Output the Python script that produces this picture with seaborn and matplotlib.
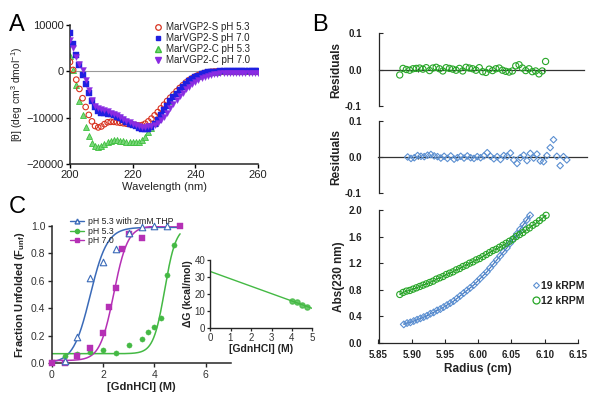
import numpy as np
import pandas as pd
import matplotlib
matplotlib.use("Agg")
import matplotlib.pyplot as plt
import seaborn as sns
from matplotlib.lines import Line2D

sns.set_style("ticks")
plt.rcParams['font.family'] = ['Liberation Sans', 'DejaVu Sans']
plt.rcParams['mathtext.default'] = 'regular'
plt.rcParams['axes.linewidth'] = 1.1

# ---------------- Panel A data (CD spectra) ----------------
wavelength = np.arange(200, 261, 1)
cd_S_53 = [2000, 300, -1800, -3800, -5800, -7700, -9400, -10800, -11800, -12100,
           -11900, -11400, -11000, -10900, -10900, -11000, -11100, -11200, -11300, -11400,
           -11500, -11600, -11700, -11600, -11300, -10800, -10200, -9500, -8800, -8000,
           -7200, -6400, -5700, -5000, -4300, -3600, -3000, -2400, -1900, -1500,
           -1100, -800, -550, -350, -200, -100, -50, -20, 0, 0,
           0, 0, 0, 0, 0, 0, 0, 0, 0, 0, 0]
cd_S_70 = [8200, 5800, 3500, 1300, -800, -2800, -4700, -6400, -7700, -8500,
           -8900, -9100, -9200, -9300, -9500, -9800, -10100, -10500, -10900, -11300,
           -11600, -11900, -12200, -12400, -12500, -12400, -12000, -11300, -10400, -9400,
           -8400, -7400, -6500, -5600, -4800, -4000, -3300, -2700, -2100, -1600,
           -1200, -900, -600, -400, -250, -150, -80, -40, -20, 0,
           0, 0, 0, 0, 0, 0, 0, 0, 0, 0, 0]
cd_C_53 = [3400, 300, -3000, -6400, -9400, -12000, -14000, -15400, -16200, -16400,
           -16200, -15700, -15200, -15000, -14900, -14900, -15000, -15100, -15200, -15200,
           -15300, -15300, -15200, -14800, -14100, -13200, -12200, -11200, -10200, -9200,
           -8200, -7200, -6300, -5400, -4600, -3800, -3100, -2500, -2000, -1600,
           -1200, -900, -650, -450, -300, -180, -100, -50, -20, 0,
           0, 0, 0, 0, 0, 0, 0, 0, 0, 0, 0]
cd_C_70 = [6700, 5000, 3200, 1500, 200, -1800, -4000, -6200, -7400, -7900,
           -8100, -8300, -8600, -8900, -9200, -9500, -9900, -10300, -10700, -11000,
           -11300, -11600, -11800, -12000, -12000, -11900, -11700, -11500, -11200, -10600,
           -9800, -8900, -8000, -7100, -6200, -5400, -4600, -3900, -3300, -2800,
           -2300, -1900, -1500, -1200, -950, -750, -600, -500, -420, -380,
           -350, -330, -320, -310, -300, -300, -300, -300, -300, -300, -300]
cd_labels = ["MarVGP2-S pH 5.3", "MarVGP2-S pH 7.0", "MarVGP2-C pH 5.3", "MarVGP2-C pH 7.0"]

# ---------------- Panel B data (AUC) ----------------
r19_x = [5.888, 5.893, 5.898, 5.903, 5.908, 5.913, 5.918, 5.923, 5.928, 5.933,
         5.938, 5.943, 5.948, 5.953, 5.958, 5.963, 5.968, 5.973, 5.978, 5.983,
         5.988, 5.993, 5.998, 6.003, 6.008, 6.013, 6.018, 6.023, 6.028, 6.033,
         6.038, 6.043, 6.048, 6.053, 6.058, 6.063, 6.068, 6.073, 6.078]
r19_abs = [0.28, 0.30, 0.31, 0.33, 0.35, 0.37, 0.39, 0.41, 0.44, 0.46,
           0.49, 0.51, 0.54, 0.57, 0.60, 0.63, 0.67, 0.71, 0.75, 0.79,
           0.83, 0.87, 0.92, 0.97, 1.02, 1.07, 1.13, 1.19, 1.25, 1.31,
           1.37, 1.43, 1.50, 1.57, 1.64, 1.71, 1.78, 1.85, 1.92]
r12_x = [5.882, 5.887, 5.892, 5.897, 5.902, 5.907, 5.912, 5.917, 5.922, 5.927,
         5.932, 5.937, 5.942, 5.947, 5.952, 5.957, 5.962, 5.967, 5.972, 5.977,
         5.982, 5.987, 5.992, 5.997, 6.002, 6.007, 6.012, 6.017, 6.022, 6.027,
         6.032, 6.037, 6.042, 6.047, 6.052, 6.057, 6.062, 6.067, 6.072, 6.077,
         6.082, 6.087, 6.092, 6.097, 6.102]
r12_abs = [0.73, 0.76, 0.78, 0.79, 0.81, 0.83, 0.85, 0.87, 0.89, 0.91,
           0.93, 0.96, 0.98, 1.00, 1.03, 1.05, 1.07, 1.10, 1.12, 1.15,
           1.17, 1.20, 1.22, 1.25, 1.27, 1.30, 1.33, 1.36, 1.39, 1.41,
           1.44, 1.47, 1.50, 1.53, 1.56, 1.60, 1.63, 1.66, 1.70, 1.73,
           1.77, 1.80, 1.84, 1.88, 1.92]
res12 = [-0.015, 0.003, 0.000, -0.002, 0.002, 0.003, 0.004, 0.001, 0.005, -0.003,
         0.004, 0.006, 0.002, -0.004, 0.005, 0.003, 0.001, -0.002, 0.003, -0.004,
         0.006, 0.004, 0.002, -0.002, 0.005, -0.006, -0.008, 0.001, -0.003, 0.002,
         0.004, -0.002, -0.005, -0.007, -0.004, 0.010, 0.013, 0.004, -0.003, 0.002,
         -0.006, -0.004, -0.012, -0.004, 0.022]
res19_x = [5.894, 5.899, 5.904, 5.909, 5.914, 5.919, 5.924, 5.929, 5.934, 5.939,
           5.944, 5.949, 5.954, 5.959, 5.964, 5.969, 5.974, 5.979, 5.984, 5.989,
           5.994, 5.999, 6.004, 6.009, 6.014, 6.019, 6.024, 6.029, 6.034, 6.039,
           6.044, 6.049, 6.054, 6.059, 6.064, 6.069, 6.074, 6.079, 6.084, 6.089,
           6.094, 6.099, 6.104, 6.109, 6.114, 6.119, 6.124, 6.129, 6.134]
res19 = [0.000, -0.004, -0.002, 0.004, 0.002, 0.001, 0.005, 0.007, 0.003, 0.001,
         -0.003, 0.002, -0.004, 0.003, -0.006, -0.002, 0.002, -0.003, 0.003, -0.002,
         -0.004, 0.001, -0.002, 0.003, 0.012, 0.002, -0.005, 0.001, -0.007, 0.004,
         0.002, 0.011, -0.008, -0.018, -0.002, 0.005, -0.010, 0.010, -0.003, 0.008,
         -0.011, -0.013, 0.004, 0.026, 0.048, 0.002, -0.024, 0.001, -0.008]

# ---------------- Panel C data (denaturation) ----------------
gdn_thp = [0.5, 1.0, 1.5, 2.0, 2.5, 3.0, 3.5, 4.0, 4.5]
fu_thp = [0.02, 0.19, 0.62, 0.74, 0.83, 0.95, 0.995, 1.0, 1.0]
gdn_53 = [0.5, 1.0, 1.5, 2.0, 2.5, 3.0, 3.5, 3.75, 4.0, 4.25, 4.5, 4.75]
fu_53 = [0.05, 0.07, 0.085, 0.10, 0.075, 0.13, 0.18, 0.225, 0.265, 0.33, 0.64, 0.86]
gdn_70 = [0.0, 0.5, 1.0, 1.5, 2.0, 2.25, 2.5, 2.75, 3.0, 3.5, 5.0]
fu_70 = [0.0, 0.0, 0.05, 0.11, 0.22, 0.41, 0.55, 0.83, 0.94, 0.91, 1.0]
c_labels = ["pH 5.3 with 2mM THP", "pH 5.3", "pH 7.0"]
# two-state fit parameters: midpoint, width, baseline, top
fit_mid = [1.5, 4.4, 2.42]
fit_w = [0.33, 0.22, 0.27]
fit_base = [0.0, 0.07, 0.02]
fit_top = [0.99, 1.0, 1.0]
# inset: Delta G
dg_x = [4.0, 4.25, 4.5, 4.75]
dg_y = [15.6, 15.2, 13.6, 12.5]

fig = plt.figure(figsize=(6, 4), dpi=100)
W, H = 600.0, 400.0
def box(l, r, t, b):
    return [l / W, 1 - b / H, (r - l) / W, (b - t) / H]

TXT = '#222222'
# ================= Panel A =================
axA = fig.add_axes(box(70, 258, 25, 164))
red, blue, green, purple = '#d8321f', '#1f1fe0', '#3cbf3c', '#8a2be2'
axA.axhline(0, color='#999999', lw=0.8, zorder=0)
sns.scatterplot(x=wavelength, y=cd_C_53, marker='^', s=18, color='#7ad67a', edgecolor=green, linewidth=0.6, ax=axA, zorder=2)
sns.scatterplot(x=wavelength, y=cd_S_53, marker='o', s=16, color=red, ax=axA, zorder=3)
axA.collections[-1].set_facecolor('none'); axA.collections[-1].set_edgecolor(red); axA.collections[-1].set_linewidth(0.8)
sns.scatterplot(x=wavelength, y=cd_S_70, marker='s', s=14, color=blue, edgecolor=blue, linewidth=0.3, ax=axA, zorder=3)
sns.scatterplot(x=wavelength, y=cd_C_70, marker='v', s=18, color=purple, edgecolor=purple, linewidth=0.3, ax=axA, zorder=4)
axA.set_xlim(200, 260)
axA.set_ylim(-20000, 10000)
axA.set_xticks([200, 220, 240, 260])
axA.set_yticks([-20000, -10000, 0, 10000])
sns.despine(ax=axA)
axA.tick_params(direction='out', length=3, width=1, labelsize=8, colors='black', labelcolor=TXT, pad=1.5)
axA.set_xlabel("Wavelength (nm)", fontsize=8, color=TXT, labelpad=1)
axA.set_ylabel(r"[θ] (deg cm$^3$ dmol$^{-1}$)", fontsize=7.5, color=TXT, labelpad=1)
hA = [Line2D([], [], ls='none', marker='o', mfc='none', mec=red, ms=4, mew=0.9),
      Line2D([], [], ls='none', marker='s', mfc=blue, mec=blue, ms=3.5),
      Line2D([], [], ls='none', marker='^', mfc='#7ad67a', mec=green, ms=4),
      Line2D([], [], ls='none', marker='v', mfc=purple, mec=purple, ms=4)]
axA.legend(hA, cd_labels, loc='upper right', bbox_to_anchor=(0.99, 1.06), frameon=False,
           fontsize=7, handletextpad=0.3, labelspacing=0.1, borderaxespad=0.2,
           handlelength=1.2, labelcolor=TXT)

# ================= Panel B =================
gB = '#27a627'
bB = '#5b8fd1'
xmin = 5.85
pxu = 663.0
def rb(lpx, rpx):
    return (xmin, xmin + (rpx - lpx) / pxu)

axR1 = fig.add_axes(box(378.5, 584, 33, 106))
axR2 = fig.add_axes(box(378.5, 587, 121, 193))
axB = fig.add_axes(box(378.5, 578, 210, 343))

for ax, xs, ys, mk, col, ms, rpx in [(axR1, r12_x, res12, 'o', gB, 20, 584),
                                     (axR2, res19_x, res19, 'D', bB, 11, 587)]:
    sns.scatterplot(x=xs, y=ys, marker=mk, s=ms, color=col, ax=ax, zorder=3, clip_on=False)
    ax.collections[-1].set_facecolor('none'); ax.collections[-1].set_edgecolor(col); ax.collections[-1].set_linewidth(0.8)
    ax.set_xlim(*rb(378.5, rpx))
    ax.set_ylim(-0.1, 0.1)
    ax.set_yticks([-0.1, 0.0, 0.1])
    ax.set_yticklabels(['-0.1', '0.0', '0.1'], fontweight='bold')
    ax.spines['top'].set_visible(False)
    ax.spines['right'].set_visible(False)
    ax.spines['bottom'].set_position(('data', 0))
    ax.spines['bottom'].set_linewidth(0.9)
    ax.spines['bottom'].set_color('#333333')
    ax.spines['left'].set_linewidth(0.9)
    ax.set_xticks([5.91, 6.10])
    ax.tick_params(axis='x', direction='inout', length=3, width=0.8, labelbottom=False)
    ax.tick_params(axis='y', direction='in', length=3, width=0.8, labelsize=7, pad=12, labelcolor=TXT)
    for t in ax.get_yticklabels():
        t.set_horizontalalignment('right')
    ax.set_ylabel("Residuals", fontsize=8.5, fontweight='bold', color=TXT, labelpad=2)

sns.lineplot(x=r19_x, y=r19_abs, color='#3a6db5', lw=0.8, ax=axB, zorder=2)
sns.scatterplot(x=r19_x, y=r19_abs, marker='D', s=12, color=bB, ax=axB, zorder=3)
axB.collections[-1].set_facecolor('none'); axB.collections[-1].set_edgecolor(bB); axB.collections[-1].set_linewidth(0.8)
sns.lineplot(x=r12_x, y=r12_abs, color='#1e8c1e', lw=0.8, ax=axB, zorder=2)
sns.scatterplot(x=r12_x, y=r12_abs, marker='o', s=20, color=gB, ax=axB, zorder=3, clip_on=False)
axB.collections[-1].set_facecolor('none'); axB.collections[-1].set_edgecolor(gB); axB.collections[-1].set_linewidth(0.8)
axB.set_xlim(5.85, 6.15)
axB.set_ylim(0, 2.0)
axB.set_xticks([5.85, 5.90, 5.95, 6.00, 6.05, 6.10, 6.15])
axB.set_xticklabels([f"{v:.2f}" for v in [5.85, 5.90, 5.95, 6.00, 6.05, 6.10, 6.15]], fontweight='bold')
axB.set_yticks([0.0, 0.4, 0.8, 1.2, 1.6, 2.0])
axB.set_yticklabels([f"{v:.1f}" for v in [0.0, 0.4, 0.8, 1.2, 1.6, 2.0]], fontweight='bold')
sns.despine(ax=axB)
axB.spines['left'].set_linewidth(0.9)
axB.spines['bottom'].set_linewidth(0.9)
axB.tick_params(direction='in', length=3, width=0.8, labelsize=7, labelcolor=TXT)
axB.tick_params(axis='y', pad=12)
for t in axB.get_yticklabels():
    t.set_horizontalalignment('right')
axB.tick_params(axis='x', pad=5)
axB.set_xlabel("Radius (cm)", fontsize=8.5, fontweight='bold', color=TXT, labelpad=2)
axB.set_ylabel("Abs(230 nm)", fontsize=8.5, fontweight='bold', color=TXT, labelpad=2)
hB = [Line2D([], [], ls='none', marker='D', mfc='none', mec=bB, ms=3, mew=0.8),
      Line2D([], [], ls='none', marker='o', mfc='none', mec=gB, ms=5, mew=0.9)]
axB.legend(hB, ["19 kRPM", "12 kRPM"], loc='upper left', bbox_to_anchor=(0.72, 0.54), frameon=False,
           prop={'weight': 'bold', 'size': 7.5}, handletextpad=0.05, handlelength=0.9,
           labelspacing=0.5, labelcolor=TXT)

# ================= Panel C =================
axC = fig.add_axes(box(51.7, 231.4, 226, 363.3))
cB, cG, cP = '#3a6ab8', '#44b944', '#b530b5'
xfit = np.linspace(0, 5, 200)
for mid, w, b0, tp, col in zip(fit_mid, fit_w, fit_base, fit_top, [cB, cG, cP]):
    yfit = b0 + (tp - b0) / (1 + np.exp(-(xfit - mid) / w))
    sns.lineplot(x=xfit, y=yfit, color=col, lw=1.1, ax=axC, zorder=2)
sns.scatterplot(x=gdn_thp, y=fu_thp, marker='^', s=22, color=cB, ax=axC, zorder=4, clip_on=False)
axC.collections[-1].set_facecolor('white'); axC.collections[-1].set_edgecolor(cB); axC.collections[-1].set_linewidth(0.8)
sns.scatterplot(x=gdn_53, y=fu_53, marker='o', s=14, color=cG, edgecolor=cG, linewidth=0.3, ax=axC, zorder=3, clip_on=False)
sns.scatterplot(x=gdn_70, y=fu_70, marker='s', s=14, color=cP, edgecolor=cP, linewidth=0.3, ax=axC, zorder=3, clip_on=False)
axC.set_xlim(0, 7)
axC.set_ylim(0, 1.0)
axC.set_xticks([0, 2, 4, 6])
axC.set_yticks([0.0, 0.2, 0.4, 0.6, 0.8, 1.0])
axC.set_yticklabels([f"{v:.1f}" for v in [0.0, 0.2, 0.4, 0.6, 0.8, 1.0]])
sns.despine(ax=axC)
axC.spines['left'].set_linewidth(1.1)
axC.spines['bottom'].set_linewidth(1.1)
axC.tick_params(direction='out', length=3, width=1, labelsize=7.5, labelcolor='#333333', pad=1.5)
axC.set_xlabel("[GdnHCl] (M)", fontsize=8, fontweight='bold', color=TXT, labelpad=2)
axC.set_ylabel(r"Fraction Unfolded (F$_{unf}$)", fontsize=8, fontweight='bold', color=TXT, labelpad=3)
hC = [Line2D([], [], color=cB, lw=1, marker='^', mfc='white', mec=cB, ms=3.5),
      Line2D([], [], color=cG, lw=1, marker='o', mfc=cG, mec=cG, ms=3),
      Line2D([], [], color=cP, lw=1, marker='s', mfc=cP, mec=cP, ms=3)]
axC.legend(hC, c_labels, loc='upper left', bbox_to_anchor=(0.06, 1.12), frameon=False,
           fontsize=6.3, handletextpad=0.4, labelspacing=0.05, handlelength=1.6, labelcolor=TXT)

# inset
axI = fig.add_axes(box(210, 312.5, 260, 328))
axI.set_xlim(0, 5)
axI.set_ylim(0, 40)
sns.regplot(x=dg_x, y=dg_y, ci=None, truncate=False, ax=axI, color=cG,
            scatter_kws={'s': 14, 'zorder': 3}, line_kws={'lw': 1.0})
axI.set_xlim(0, 5)
axI.set_ylim(0, 40)
axI.set_xticks([0, 1, 2, 3, 4, 5])
axI.set_yticks([0, 10, 20, 30, 40])
sns.despine(ax=axI)
axI.spines['left'].set_linewidth(1.0)
axI.spines['bottom'].set_linewidth(1.0)
axI.tick_params(direction='out', length=2.5, width=0.9, labelsize=7, labelcolor='#333333', pad=1)
axI.set_xlabel("[GdnHCl] (M)", fontsize=7.5, fontweight='bold', color=TXT, labelpad=1)
axI.set_ylabel("ΔG (kcal/mol)", fontsize=7.5, fontweight='bold', color=TXT, labelpad=1)

# panel letters
fig.text(9 / W, 1 - 31 / H, "A", fontsize=17, va='baseline', color='black')
fig.text(312 / W, 1 - 31 / H, "B", fontsize=17, va='baseline', color='black')
fig.text(9 / W, 1 - 213 / H, "C", fontsize=17, va='baseline', color='black')

fig.savefig("out.png", dpi=100)
